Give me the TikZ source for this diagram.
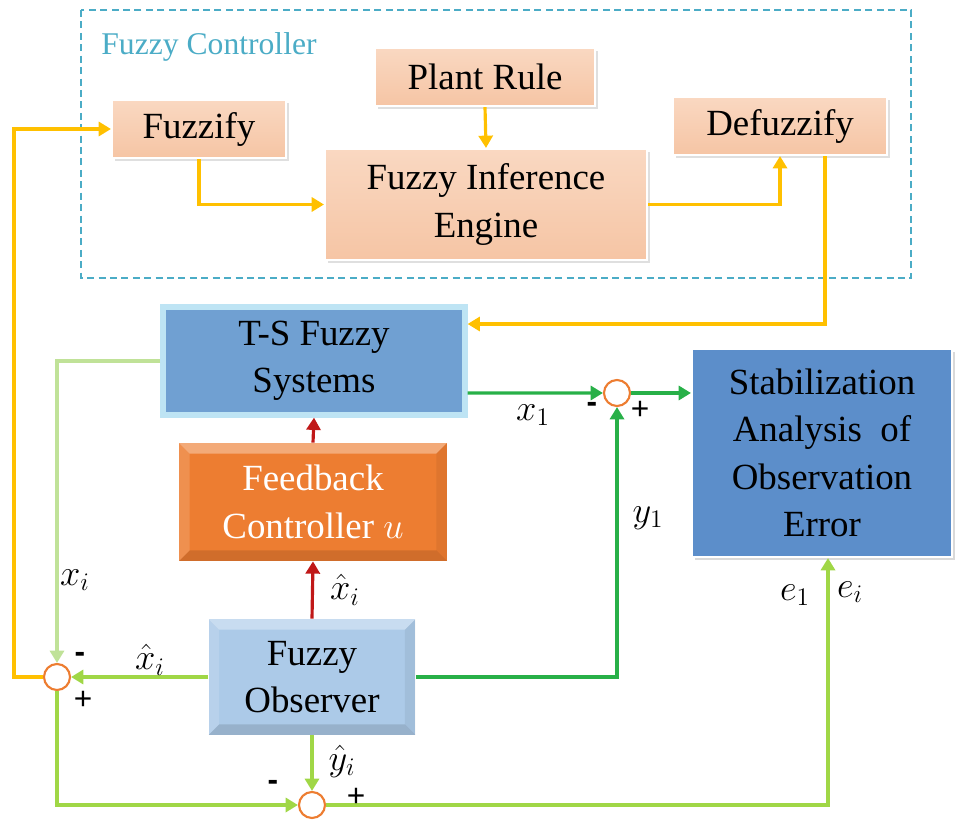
\documentclass[tikz,border=0pt]{standalone}
\usepackage{fontspec}
\setmainfont{Liberation Serif}
\newfontfamily\signfont{Liberation Sans}
\usetikzlibrary{arrows.meta,shadows}

\definecolor{peach}{RGB}{248,203,173}
\definecolor{peachdark}{RGB}{236,172,130}
\definecolor{amber}{RGB}{255,192,0}
\definecolor{dashblue}{RGB}{75,172,198}
\definecolor{tsblue}{RGB}{112,160,210}
\definecolor{tsrim}{RGB}{190,228,244}
\definecolor{stabblue}{RGB}{92,142,202}
\definecolor{fcorange}{RGB}{237,125,49}
\definecolor{foblue}{RGB}{172,202,232}
\definecolor{darkgreen}{RGB}{40,176,72}
\definecolor{lightgreen}{RGB}{160,215,70}
\definecolor{palegreen}{RGB}{192,226,152}
\definecolor{darkred}{RGB}{192,24,24}

\tikzset{
  bevel/.style={path picture={
    \path (path picture bounding box.north west) coordinate (pnw)
          (path picture bounding box.south east) coordinate (pse)
          (pnw -| pse) coordinate (pne)
          (pnw |- pse) coordinate (psw);
    \fill[white,opacity=.35] (pnw) -- (pne) -- ([shift={(-6pt,-6pt)}]pne) -- ([shift={(6pt,-6pt)}]pnw) -- cycle;
    \fill[white,opacity=.15] (pnw) -- (psw) -- ([shift={(6pt,6pt)}]psw) -- ([shift={(6pt,-6pt)}]pnw) -- cycle;
    \fill[black,opacity=.12] (psw) -- (pse) -- ([shift={(-6pt,6pt)}]pse) -- ([shift={(6pt,6pt)}]psw) -- cycle;
    \fill[black,opacity=.06] (pne) -- (pse) -- ([shift={(-6pt,6pt)}]pse) -- ([shift={(-6pt,-6pt)}]pne) -- cycle;
  }}
}

\begin{document}
\begin{tikzpicture}[x=0.02cm,y=-0.02cm,>={Triangle[length=7pt,width=8pt]},
  box/.style={rectangle, inner sep=0pt, align=center, font=\fontsize{21}{27}\selectfont},
  peachbox/.style={box, top color=peach!75!white, bottom color=peach!80!peachdark, draw=white, line width=1.2pt,
    drop shadow={opacity=.25,shadow xshift=1.5pt,shadow yshift=-1.5pt}},
  sum/.style={circle, draw=fcorange, fill=white, line width=1.2pt, minimum size=0.52cm, inner sep=0pt},
  lab/.style={inner sep=0pt, font=\fontsize{21}{24}\selectfont},
  sign/.style={inner sep=0pt, font=\signfont\fontsize{18}{20}\selectfont},
  oline/.style={amber, line width=1.8pt},
  gline/.style={darkgreen, line width=1.8pt},
  lgline/.style={lightgreen, line width=1.8pt},
  rline/.style={darkred, line width=1.8pt}]

\useasboundingbox (0,0) rectangle (956,820);

% fuzzy controller frame
\draw[dashblue, line width=1.2pt, dash pattern=on 4pt off 2.5pt] (81,10) rectangle (911,278);
\node[inner sep=0pt, text=dashblue, font=\fontsize{18}{20}\selectfont] (fctitle) at (209,47) {Fuzzy Controller};

% controller blocks
\node[peachbox, minimum width=3.48cm, minimum height=1.16cm] (fuzzify) at (199,129) {Fuzzify};
\node[peachbox, minimum width=4.4cm, minimum height=1.16cm] (plant) at (485,77) {Plant Rule};
\node[peachbox, minimum width=6.44cm, minimum height=2.22cm] (engine) at (486,204.5) {Fuzzy Inference\\Engine};
\node[peachbox, minimum width=4.28cm, minimum height=1.16cm] (defuzz) at (780,126) {Defuzzify};

% system blocks
\node[box, fill=tsblue, draw=tsrim, line width=3pt, minimum width=6.04cm, minimum height=2.16cm] (ts) at (314,361) {T-S Fuzzy\\Systems};
\node[box, fill=stabblue, draw=white, line width=1.2pt, minimum width=5.2cm, minimum height=4.16cm,
  drop shadow={opacity=.3,shadow xshift=1.5pt,shadow yshift=-1.5pt}] (stab) at (822,453)
  {Stabilization\\Analysis~ of\\Observation\\Error};
\node[box, fill=fcorange, bevel, text=white, minimum width=5.36cm, minimum height=2.36cm] (fc) at (313,502) {Feedback\\Controller $u$};
\node[box, fill=foblue, bevel, minimum width=4.14cm, minimum height=2.32cm] (fo) at (312,677) {Fuzzy\\Observer};

% summing points
\node[sum] (sum1) at (617,393) {};
\node[sum] (sum2) at (57,677) {};
\node[sum] (sum3) at (312,805) {};

% controller connections
\draw[oline,->] (sum2.west) -- ++(-29,0) |- (fuzzify.west);
\draw[oline,->] (fuzzify.south) |- (engine.west);
\draw[oline,->] (plant.south) -- (engine.north);
\draw[oline,->] (engine.east) -| (defuzz.south);
\draw[oline,->] ([xshift=0.9cm]defuzz.south) |- ([yshift=0.74cm]ts.east);

% plant and observer connections
\draw[palegreen, line width=1.8pt, ->] (ts.west) -| (sum2.north);
\draw[gline,->] ([yshift=-0.64cm]ts.east) -- (sum1.west);
\draw[gline,->] (sum1.east) -- (stab.west |- sum1);
\draw[gline,->] (fo.east) -| (sum1.south);
\draw[rline,->] (fc.north) -- (ts.south);
\draw[rline,->] (fo.north) -- (fc.south);
\draw[lgline,->] (fo.west) -- (sum2.east);
\draw[lgline,->] (sum2.south) |- (sum3.west);
\draw[lgline,->] (fo.south) -- (sum3.north);
\draw[lgline,->] (sum3.east) -| ([xshift=0.12cm]stab.south);

% labels
\node[lab] (lx1) at (533,415) {$x_1$};
\node[lab] (ly1) at (648,518) {$y_1$};
\node[lab] (lxi) at (75,580) {$x_i$};
\node[lab] (lxh1) at (345,590) {$\hat{x}_i$};
\node[lab] (lxh2) at (150,660) {$\hat{x}_i$};
\node[lab] (lyh) at (342,761) {$\hat{y}_i$};
\node[lab] (le1) at (795,595) {$e_1$};
\node[lab] (lei) at (850,592) {$e_i$};
\node[sign] (m1) at (592,407) {\textbf{-}};
\node[sign] (p1) at (640,410) {+};
\node[sign] (m2) at (80,657) {\textbf{-}};
\node[sign] (p2) at (83,700) {+};
\node[sign] (m3) at (273,785) {\textbf{-}};
\node[sign] (p3) at (356,797) {+};

\end{tikzpicture}
\end{document}
